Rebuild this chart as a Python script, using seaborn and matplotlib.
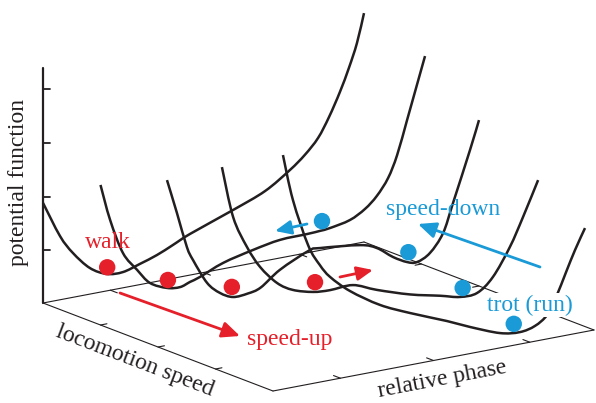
import numpy as np
import pandas as pd
import matplotlib
matplotlib.use("Agg")
import matplotlib.pyplot as plt
from matplotlib.path import Path
from matplotlib.patches import PathPatch
import seaborn as sns

# potential curves, one per locomotion speed (phase, potential)
speeds = [0.0, 0.25, 0.5, 0.75, 1.0]

phase_1 = [0.00, 0.053, 0.093, 0.146, 0.199, 0.249, 0.302, 0.355, 0.405, 0.458, 0.592, 0.692, 0.769, 0.816, 0.857, 0.891, 0.925, 0.953, 0.978, 1.00]
pot_1 = [0.426, 0.271, 0.189, 0.111, 0.072, 0.067, 0.088, 0.112, 0.142, 0.175, 0.242, 0.297, 0.366, 0.419, 0.480, 0.560, 0.658, 0.753, 0.852, 0.974]

phase_2 = [0.00, 0.03, 0.07, 0.114, 0.154, 0.207, 0.248, 0.279, 0.31, 0.382, 0.475, 0.559, 0.643, 0.684, 0.715, 0.777, 0.824, 0.861, 0.896, 0.924, 0.955, 0.983, 1.011]
pot_2 = [0.596, 0.439, 0.288, 0.205, 0.139, 0.104, 0.097, 0.111, 0.124, 0.165, 0.196, 0.217, 0.22, 0.223, 0.227, 0.245, 0.280, 0.326, 0.393, 0.483, 0.624, 0.753, 0.882]

phase_3 = [0.028, 0.059, 0.09, 0.109, 0.153, 0.193, 0.234, 0.28, 0.32, 0.38, 0.47, 0.505, 0.63, 0.682, 0.732, 0.776, 0.807, 0.847, 0.888, 0.919, 0.972, 1.00]
pot_3 = [0.703, 0.555, 0.402, 0.342, 0.233, 0.18, 0.152, 0.155, 0.17, 0.23, 0.288, 0.29, 0.27, 0.244, 0.193, 0.16, 0.152, 0.18, 0.254, 0.374, 0.586, 0.706]

phase_4 = [0.02, 0.055, 0.098, 0.139, 0.192, 0.241, 0.304, 0.357, 0.428, 0.503, 0.606, 0.70, 0.761, 0.815, 0.864, 0.917, 0.958, 1.005]
pot_4 = [0.854, 0.632, 0.494, 0.398, 0.316, 0.274, 0.249, 0.243, 0.246, 0.206, 0.16, 0.13, 0.109, 0.112, 0.167, 0.281, 0.398, 0.543]

phase_5 = [0.031, 0.062, 0.11, 0.146, 0.178, 0.24, 0.333, 0.427, 0.542, 0.614, 0.707, 0.769, 0.816, 0.854, 0.882, 0.913, 0.941, 0.972]
pot_5 = [0.996, 0.797, 0.59, 0.498, 0.439, 0.363, 0.28, 0.221, 0.157, 0.113, 0.063, 0.051, 0.065, 0.102, 0.171, 0.269, 0.356, 0.441]

curve_phases = [phase_1, phase_2, phase_3, phase_4, phase_5]
curve_pots = [pot_1, pot_2, pot_3, pot_4, pot_5]

# balls (states) sitting on the curves
ball_gait = ["walk", "walk", "walk", "walk", "trot", "trot", "trot", "trot"]
ball_phase = [0.20, 0.21, 0.23, 0.31, 0.69, 0.78, 0.77, 0.75]
ball_speed = [0.0, 0.25, 0.5, 0.75, 0.25, 0.5, 0.75, 1.0]
ball_pot = [0.10, 0.137, 0.196, 0.289, 0.263, 0.201, 0.145, 0.091]

pot_ticks = [0.225, 0.45, 0.68, 0.91]
speed_ticks = [0.25, 0.5, 0.75]
phase_ticks = [0.21, 0.5, 0.8]

RED = "#E5202A"
BLUE = "#1A9AD6"
INK = "#231F20"

# oblique projection (pixels)
ORIGIN = np.array([43.0, 303.0])
PHASE_VEC = np.array([321.0, -61.0])
SPEED_VEC = np.array([230.0, 88.0])
POT_VEC = np.array([0.0, -235.0])


def proj(phase, speed, pot):
    phase = np.asarray(phase, dtype=float)
    speed = np.asarray(speed, dtype=float)
    pot = np.asarray(pot, dtype=float)
    x = ORIGIN[0] + phase * PHASE_VEC[0] + speed * SPEED_VEC[0] + pot * POT_VEC[0]
    y = ORIGIN[1] + phase * PHASE_VEC[1] + speed * SPEED_VEC[1] + pot * POT_VEC[1]
    return x, y


def smooth_path(x, y):
    # Catmull-Rom through the read points, drawn as cubic Bezier segments
    p = np.column_stack([x, y])
    ext = np.vstack([p[0], p, p[-1]])
    verts = [p[0]]
    codes = [Path.MOVETO]
    for i in range(1, len(ext) - 2):
        c1 = ext[i] + (ext[i + 1] - ext[i - 1]) / 6.0
        c2 = ext[i + 1] - (ext[i + 2] - ext[i]) / 6.0
        verts += [c1, c2, ext[i + 1]]
        codes += [Path.CURVE4] * 3
    return Path(verts, codes)


sns.set_theme(style="white")
plt.rcParams["font.family"] = ["Liberation Serif", "DejaVu Serif"]

fig = plt.figure(figsize=(5.96, 4.03), dpi=100)
ax = fig.add_axes([0, 0, 1, 1])
ax.set_xlim(0, 596)
ax.set_ylim(403, 0)
ax.axis("off")

# floor box and axes
thin = dict(color=INK, lw=0.8, zorder=1)
for a, b in [((0, 0, 0), (1, 0, 0)), ((1, 0, 0), (1, 1, 0)),
             ((0, 1, 0), (1, 1, 0)), ((0, 0, 0), (0, 1, 0))]:
    x, y = proj([a[0], b[0]], [a[1], b[1]], [a[2], b[2]])
    ax.plot(x, y, **thin)
x, y = proj([0, 0], [0, 0], [0, 1.0])
ax.plot(x, y, color=INK, lw=1.6, zorder=1)

for v in pot_ticks:
    x, y = proj([0, 0], [0, 0], [v, v])
    ax.plot([x[0], x[0] + 7], y, color=INK, lw=1.3, zorder=1)
for s in speed_ticks:
    ax.plot(*proj([0, 0.02], [s, s], [0, 0]), **thin)
    ax.plot(*proj([1, 0.98], [s, s], [0, 0]), **thin)
for p in phase_ticks:
    ax.plot(*proj([p, p], [1, 0.97], [0, 0]), **thin)
    ax.plot(*proj([p, p], [0, 0.03], [0, 0]), **thin)

# potential curves
rows = []
for i, (s, ph, pt) in enumerate(zip(speeds, curve_phases, curve_pots)):
    x, y = proj(ph, [s] * len(ph), pt)
    rows.append(pd.DataFrame({"curve": i, "x": x, "y": y}))
df = pd.concat(rows, ignore_index=True)
for i, grp in df.groupby("curve"):
    ax.add_patch(PathPatch(smooth_path(grp["x"].values, grp["y"].values),
                           facecolor="none", edgecolor=INK, lw=1.8,
                           capstyle="butt", zorder=2))

# balls
bx, by = proj(ball_phase, ball_speed, ball_pot)
balls = pd.DataFrame({"gait": ball_gait, "x": bx, "y": by})
sns.scatterplot(data=balls, x="x", y="y", hue="gait",
                palette={"walk": RED, "trot": BLUE}, s=140, linewidth=0,
                legend=False, ax=ax, zorder=5)


def arrow(start, end, color, lw, hl=0.9, hw=0.4):
    ax.annotate("", xy=end, xytext=start,
                arrowprops=dict(arrowstyle=f"-|>,head_length={hl},head_width={hw}",
                                color=color, lw=lw, shrinkA=0, shrinkB=0),
                zorder=6)


arrow((120, 293), (240, 336), RED, 2.0)
arrow((340, 277), (373, 270), RED, 2.0, 0.8, 0.35)
arrow((307, 224), (275, 231), BLUE, 2.0, 0.8, 0.35)
arrow((540, 267), (418, 224), BLUE, 2.0)

# texts
fs = 17
ax.text(108, 242, "walk", color=RED, fontsize=fs, ha="center", va="center")
ax.text(290, 340, "speed-up", color=RED, fontsize=fs, ha="center", va="center")
ax.text(443, 209, "speed-down", color=BLUE, fontsize=fs, ha="center", va="center")
ax.text(530, 305, "trot (run)", color=BLUE, fontsize=fs, ha="center", va="center",
        bbox=dict(facecolor="white", edgecolor="none", pad=1), zorder=4)
ax.text(19, 183, "potential function", fontsize=fs, rotation=90,
        ha="center", va="center", color=INK)
ax.text(135, 361, "locomotion speed", fontsize=fs, rotation=-20.9,
        rotation_mode="anchor", ha="center", va="center", color=INK)
ax.text(442, 379, "relative phase", fontsize=fs, rotation=10.8,
        rotation_mode="anchor", ha="center", va="center", color=INK)

fig.savefig("out.png", dpi=100)
